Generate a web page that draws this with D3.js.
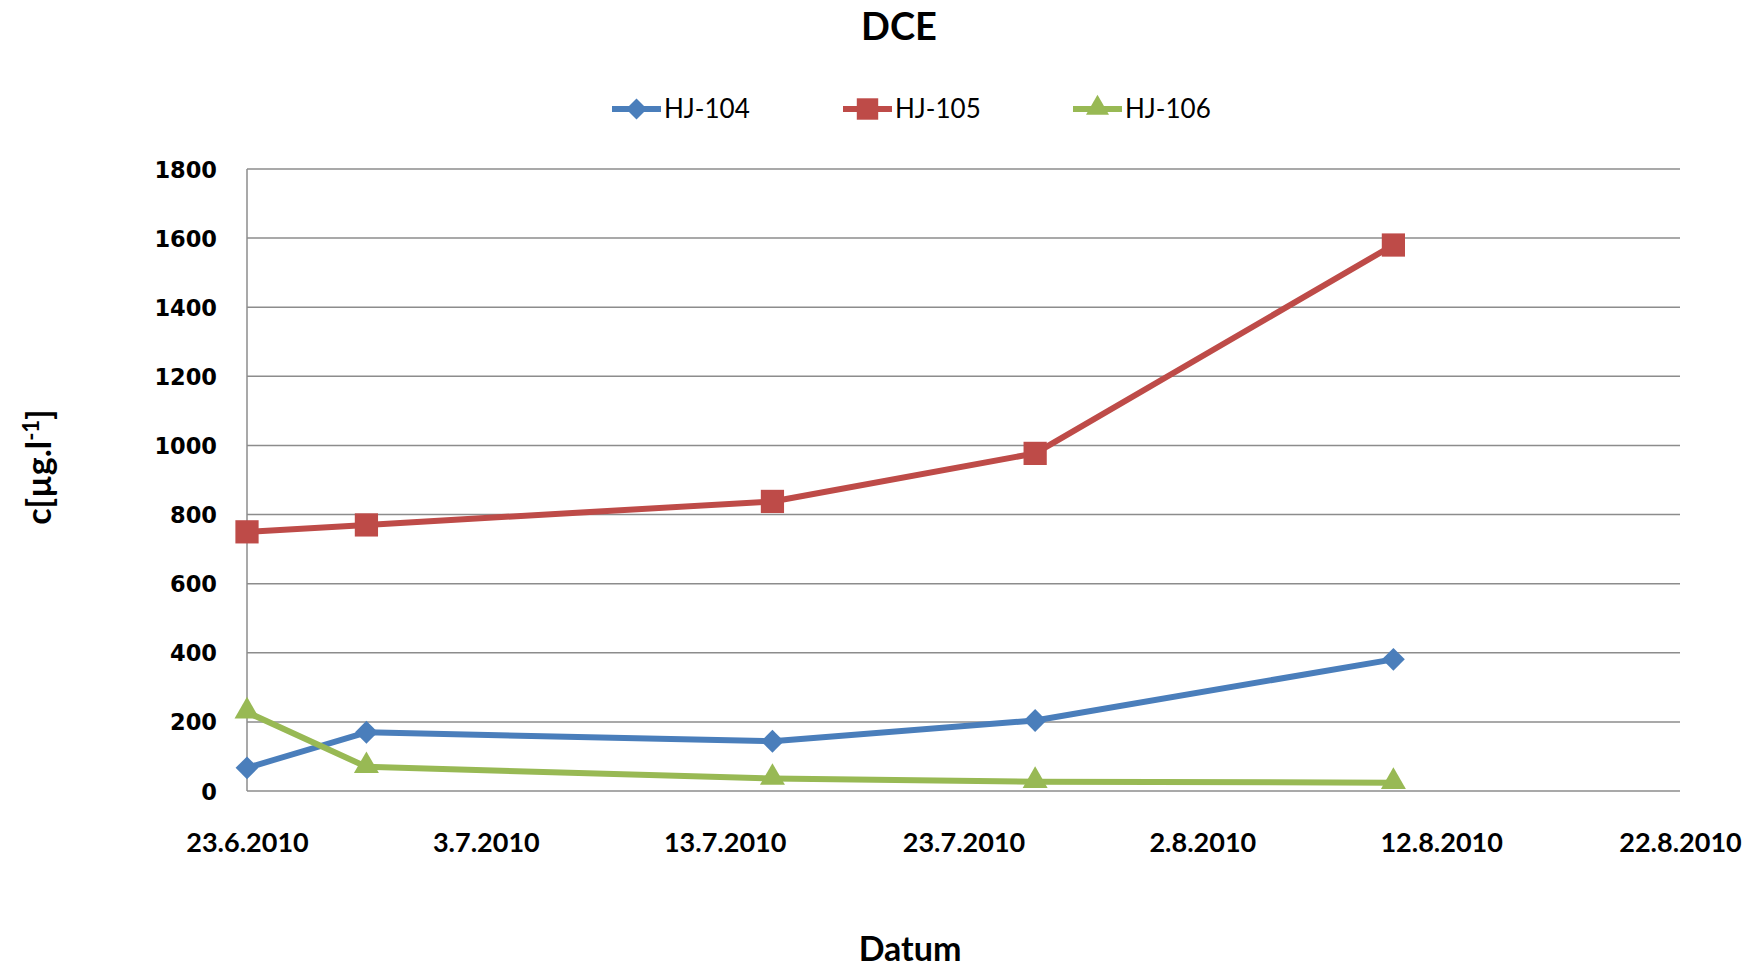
<!DOCTYPE html>
<html>
<head>
<meta charset="utf-8">
<script src="https://cdn.jsdelivr.net/npm/d3@7"></script>
<style>
  html, body { margin: 0; padding: 0; background: #fff; }
  svg { display: block; }
</style>
</head>
<body>
<svg id="chart" width="1762" height="969"></svg>
<script>
const title = "DCE";
const xTitle = "Datum";
const seriesNames = ["HJ-104", "HJ-105", "HJ-106"];
const dates = ["2010-06-23", "2010-06-28", "2010-07-15", "2010-07-26", "2010-08-10"];
const hj104 = [67, 170, 144, 204, 381];
const hj105 = [750, 770, 838, 977, 1580];
const hj106 = [228, 70, 36, 27, 24];
const xTicks = ["2010-06-23", "2010-07-03", "2010-07-13", "2010-07-23", "2010-08-02", "2010-08-12", "2010-08-22"];
const yTicks = [0, 200, 400, 600, 800, 1000, 1200, 1400, 1600, 1800];

const colors = ["#4A7EBB", "#BE4B48", "#98B954"];
const symbols = ["diamond", "square", "triangle"];

const parse = d3.utcParse("%Y-%m-%d");
const fmt = d3.utcFormat("%-d.%-m.%Y");

const svg = d3.select("#chart");
const M = { left: 247, right: 1680, top: 169, bottom: 791 };

const x = d3.scaleUtc()
  .domain([parse(xTicks[0]), parse(xTicks[xTicks.length - 1])])
  .range([M.left, M.right]);
const y = d3.scaleLinear().domain([0, 1800]).range([M.bottom, M.top]);

// gridlines
svg.append("g")
  .selectAll("line").data(yTicks).join("line")
  .attr("x1", M.left).attr("x2", M.right)
  .attr("y1", d => y(d)).attr("y2", d => y(d))
  .attr("stroke", "#8C8C8C").attr("stroke-width", 1.5);

// y axis line
svg.append("line")
  .attr("x1", M.left).attr("x2", M.left)
  .attr("y1", M.top).attr("y2", M.bottom)
  .attr("stroke", "#8C8C8C").attr("stroke-width", 1.5);

// y axis labels
const yAxis = d3.axisLeft(y).tickValues(yTicks).tickFormat(d3.format("d")).tickSize(0).tickPadding(30);
const gy = svg.append("g").attr("transform", `translate(${M.left},0)`).call(yAxis);
gy.select(".domain").remove();
gy.selectAll("text")
  .attr("font-family", "DejaVu Sans")
  .attr("font-weight", "bold")
  .attr("font-size", 22.5)
  .attr("fill", "#000")
  .attr("dy", "0.36em");

// x axis labels
const xAxis = d3.axisBottom(x).tickValues(xTicks.map(parse)).tickFormat(fmt).tickSize(0).tickPadding(0);
const gx = svg.append("g").attr("transform", `translate(0,${M.bottom})`).call(xAxis);
gx.select(".domain").remove();
gx.selectAll("text")
  .attr("font-family", "Lato")
  .attr("font-weight", "bold")
  .attr("font-size", 27)
  .attr("fill", "#000")
  .attr("dy", 0)
  .attr("y", 61);

// series
const allSeries = [hj104, hj105, hj106];
const line = d3.line().x(d => x(d.date)).y(d => y(d.value));

function symbolPath(type, scale = 1) {
  if (type === "diamond") return d3.symbol(d3.symbolSquare, 260 * scale)();
  if (type === "square") return d3.symbol(d3.symbolSquare, 540 * scale)();
  return d3.symbol(d3.symbolTriangle, 270 * scale)();
}
function symbolTransform(type, px, py) {
  if (type === "diamond") return `translate(${px},${py}) rotate(45)`;
  if (type === "triangle") return `translate(${px},${py - 1})`;
  return `translate(${px},${py})`;
}

allSeries.forEach((vals, i) => {
  const data = vals.map((v, j) => ({ date: parse(dates[j]), value: v }));
  svg.append("path")
    .datum(data)
    .attr("d", line)
    .attr("fill", "none")
    .attr("stroke", colors[i])
    .attr("stroke-width", 6)
    .attr("stroke-linejoin", "round");
  svg.append("g").selectAll("path").data(data).join("path")
    .attr("d", symbolPath(symbols[i]))
    .attr("transform", d => symbolTransform(symbols[i], x(d.date), y(d.value)))
    .attr("fill", colors[i]);
});

// title
svg.append("text")
  .attr("x", 899).attr("y", 40)
  .attr("text-anchor", "middle")
  .attr("font-family", "Lato").attr("font-weight", "bold")
  .attr("font-size", 38).attr("fill", "#000")
  .text(title);

// legend
const legendX = [612, 843, 1073];
const legendY = 109;
seriesNames.forEach((name, i) => {
  const g = svg.append("g");
  g.append("line")
    .attr("x1", legendX[i]).attr("x2", legendX[i] + 49)
    .attr("y1", legendY).attr("y2", legendY)
    .attr("stroke", colors[i]).attr("stroke-width", 6);
  g.append("path")
    .attr("d", symbolPath(symbols[i], 0.85))
    .attr("transform", symbolTransform(symbols[i], legendX[i] + 24.5, legendY))
    .attr("fill", colors[i]);
  g.append("text")
    .attr("x", legendX[i] + 52).attr("y", legendY)
    .attr("dy", "0.36em")
    .attr("font-family", "Lato")
    .attr("font-size", 26).attr("fill", "#000")
    .text(name);
});

// x axis title
svg.append("text")
  .attr("x", 910).attr("y", 961)
  .attr("text-anchor", "middle")
  .attr("font-family", "Lato").attr("font-weight", "bold")
  .attr("font-size", 34).attr("fill", "#000")
  .text(xTitle);

// y axis title
const yt = svg.append("text")
  .attr("transform", "translate(51,467) rotate(-90)")
  .attr("text-anchor", "middle")
  .attr("font-family", "Lato").attr("font-weight", "bold")
  .attr("font-size", 34).attr("fill", "#000");
yt.append("tspan").text("c[µg.l");
yt.append("tspan").attr("dy", -12).attr("font-size", 22).text("-1");
yt.append("tspan").attr("dy", 12).text("]");
</script>
</body>
</html>
